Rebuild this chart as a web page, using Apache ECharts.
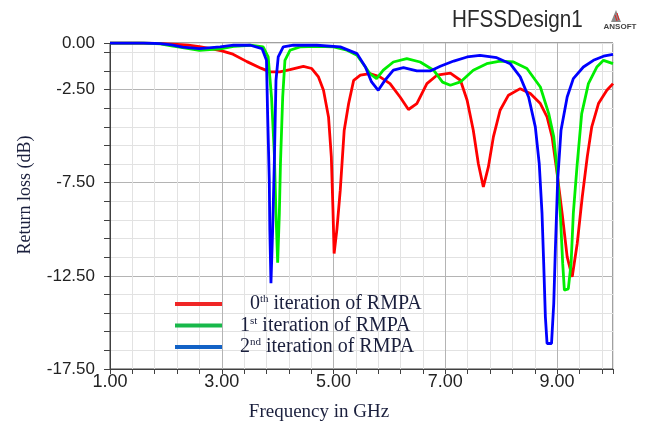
<!DOCTYPE html>
<html><head><meta charset="utf-8">
<script src="https://cdn.jsdelivr.net/npm/echarts@6/dist/echarts.min.js"></script>
<style>html,body{margin:0;padding:0;background:#fff}#c{width:646px;height:428px}</style>
</head><body><div id="c"></div>
<script>
// ---- data ----
const seriesNames = ['0th iteration of RMPA', '1st iteration of RMPA', '2nd iteration of RMPA'];
const xLabelValues = [1, 3, 5, 7, 9];
const yLabelValues = [0, -2.5, -7.5, -12.5, -17.5];

const freq0 = [1.0, 1.5, 1.8, 2.0, 2.2, 2.4, 2.6, 2.8, 3.0, 3.2, 3.45, 3.7, 3.86, 4.04, 4.22, 4.46, 4.61, 4.73, 4.82, 4.91, 4.96, 4.99, 5.01, 5.06, 5.12, 5.19, 5.27, 5.36, 5.48, 5.65, 5.83, 6.01, 6.19, 6.34, 6.49, 6.67, 6.85, 7.09, 7.27, 7.39, 7.5, 7.59, 7.68, 7.77, 7.86, 7.98, 8.13, 8.34, 8.52, 8.70, 8.82, 8.91, 9.0, 9.09, 9.18, 9.27, 9.36, 9.45, 9.54, 9.62, 9.74, 9.89, 10.0];
const loss0 = [0, 0, -0.02, -0.05, -0.08, -0.12, -0.2, -0.3, -0.42, -0.6, -1.0, -1.35, -1.55, -1.55, -1.43, -1.25, -1.37, -1.82, -2.54, -3.97, -6.1, -9.0, -11.3, -10.0, -7.9, -4.7, -3.25, -2.0, -1.73, -1.64, -1.82, -2.18, -2.9, -3.57, -3.25, -2.18, -1.73, -1.62, -2.0, -3.07, -4.68, -6.47, -7.73, -6.65, -5.04, -3.61, -2.8, -2.45, -2.71, -3.25, -3.97, -5.04, -7.0, -9.15, -11.48, -12.55, -10.76, -8.26, -6.1, -4.5, -3.25, -2.54, -2.18];

const freq1 = [1.0, 1.6, 1.9, 2.1, 2.3, 2.6, 2.97, 3.21, 3.51, 3.74, 3.83, 3.89, 3.94, 3.97, 4.0, 4.03, 4.05, 4.09, 4.13, 4.22, 4.40, 4.70, 5.0, 5.24, 5.42, 5.57, 5.65, 5.77, 5.89, 6.07, 6.31, 6.55, 6.79, 6.95, 7.09, 7.27, 7.5, 7.74, 7.98, 8.22, 8.46, 8.70, 8.85, 8.94, 9.0, 9.06, 9.10, 9.13, 9.2, 9.25, 9.29, 9.36, 9.44, 9.56, 9.71, 9.83, 10.0];
const loss1 = [0, 0, -0.05, -0.15, -0.25, -0.4, -0.32, -0.18, -0.12, -0.21, -0.75, -2.9, -5.93, -9.15, -11.8, -9.15, -6.47, -2.9, -0.93, -0.39, -0.21, -0.18, -0.21, -0.39, -0.66, -1.29, -1.64, -1.91, -1.46, -1.02, -0.84, -1.02, -1.46, -2.1, -2.27, -2.09, -1.46, -1.11, -0.97, -1.02, -1.37, -2.36, -3.79, -5.04, -6.83, -9.33, -11.83, -13.27, -13.2, -11.83, -9.15, -6.47, -3.79, -2.18, -1.29, -0.93, -1.11];

const freq2 = [1.0, 1.6, 1.9, 2.1, 2.3, 2.6, 2.97, 3.21, 3.51, 3.72, 3.80, 3.82, 3.85, 3.86, 3.88, 3.91, 3.94, 3.97, 4.01, 4.10, 4.28, 4.70, 5.12, 5.42, 5.57, 5.68, 5.80, 5.92, 6.07, 6.25, 6.49, 6.73, 6.91, 7.15, 7.39, 7.62, 7.92, 8.16, 8.34, 8.49, 8.61, 8.68, 8.73, 8.76, 8.79, 8.82, 8.90, 8.94, 8.97, 9.01, 9.07, 9.18, 9.29, 9.47, 9.65, 9.83, 10.0];
const loss2 = [0, 0, -0.03, -0.1, -0.22, -0.3, -0.21, -0.12, -0.12, -0.3, -0.93, -3.79, -7.37, -10.05, -12.9, -10.05, -6.47, -2.0, -0.75, -0.21, -0.12, -0.12, -0.21, -0.57, -1.29, -2.09, -2.54, -2.0, -1.46, -1.32, -1.5, -1.5, -1.25, -0.97, -0.75, -0.66, -0.79, -1.11, -1.82, -2.9, -4.5, -6.47, -9.15, -11.83, -14.7, -16.13, -16.13, -13.98, -10.94, -7.37, -4.68, -2.9, -1.91, -1.29, -0.93, -0.71, -0.61];

// ---- chart ----
const zip = (xs, ys) => xs.map((x, i) => [x, ys[i]]);
const near = (a, b) => Math.abs(a - b) < 1e-6;
const lineColors = ['#ff0000', '#00ee00', '#0000ff'];
const legendColors = ['#f02626', '#18b84a', '#1262c6'];
const sups = ['th', 'st', 'nd'];
const major = '#b4b4b4', minor = '#e2e2e2';

const chart = echarts.init(document.getElementById('c'), null, {renderer: 'canvas'});
chart.setOption({
  animation: false,
  backgroundColor: '#ffffff',
  grid: {left: 110, top: 43, width: 503, height: 326, show: true, borderColor: '#404040', borderWidth: 1, backgroundColor: 'transparent'},
  xAxis: {
    type: 'value', min: 1, max: 10, interval: 0.4,
    axisLine: {show: true, onZero: false, lineStyle: {color: '#404040', width: 1}},
    axisTick: {show: true, inside: false, length: 5, lineStyle: {color: '#404040'}},
    axisLabel: {
      margin: 4, fontFamily: 'Liberation Sans', fontSize: 18, color: '#222',
      formatter: v => xLabelValues.some(t => near(t, v)) ? v.toFixed(2) : ''
    },
    splitLine: {show: true, lineStyle: {color: [major, minor, minor, minor, minor], width: 1}}
  },
  yAxis: {
    type: 'value', min: -17.5, max: 0, interval: 1,
    axisLine: {show: true, onZero: false, lineStyle: {color: '#404040', width: 1}},
    axisTick: {show: true, inside: false, length: 6, lineStyle: {color: '#404040'}},
    axisLabel: {
      margin: 15, fontFamily: 'Liberation Sans', fontSize: 17, color: '#222', showMaxLabel: true, showMinLabel: true,
      formatter: v => yLabelValues.some(t => near(t, v)) ? v.toFixed(2) : ''
    },
    splitLine: {show: true, lineStyle: {color: [major, minor, minor, minor, minor], width: 1}}
  },
  legend: {
    orient: 'vertical', left: 170, top: 289, itemGap: 1.5,
    icon: 'rect', itemWidth: 47, itemHeight: 4, selectedMode: false,
    data: seriesNames.map((n, i) => ({name: n, itemStyle: {color: legendColors[i]}})),
    formatter: name => {
      const i = seriesNames.indexOf(name);
      return '{g' + (i === 0 ? 0 : 1) + '| }{n|' + i + '}{s|' + sups[i] + '}{n| iteration of RMPA}';
    },
    textStyle: {
      fontFamily: 'Liberation Serif', fontSize: 20, color: '#1a1f3d', lineHeight: 20,
      rich: {
        g0: {width: 23, fontSize: 20, lineHeight: 20},
        g1: {width: 13, fontSize: 20, lineHeight: 20},
        n: {fontFamily: 'Liberation Serif', fontSize: 20, color: '#1a1f3d', lineHeight: 20},
        s: {fontFamily: 'Liberation Serif', fontSize: 11, color: '#1a1f3d', lineHeight: 11, verticalAlign: 'top'}
      }
    }
  },
  graphic: [
    {type: 'text', x: 452, y: 8, scaleX: 0.86, style: {text: 'HFSSDesign1', font: '24px "Liberation Sans"', fill: '#2a2a2a'}},
    {type: 'polygon', shape: {points: [[616, 10], [611, 22], [621, 22]]}, style: {fill: '#8a8a8a'}},
    {type: 'polyline', shape: {points: [[615, 15], [617, 21]]}, style: {stroke: '#e02020', lineWidth: 1}},
    {type: 'polyline', shape: {points: [[617, 13], [619, 20]]}, style: {stroke: '#e02020', lineWidth: 1}},
    {type: 'text', x: 620, y: 27, style: {text: 'ANSOFT', font: 'bold 8px "Liberation Sans"', fill: '#444', textAlign: 'center', textVerticalAlign: 'middle', align: 'center', verticalAlign: 'middle'}},
    {type: 'text', x: 25, y: 195, rotation: Math.PI / 2, style: {text: 'Return loss (dB)', font: '18px "Liberation Serif"', fill: '#1a1f3d', textAlign: 'center', textVerticalAlign: 'middle', align: 'center', verticalAlign: 'middle'}},
    {type: 'text', x: 319, y: 412, style: {text: 'Frequency in GHz', font: '19px "Liberation Serif"', fill: '#1a1f3d', textAlign: 'center', textVerticalAlign: 'middle', align: 'center', verticalAlign: 'middle'}}
  ],
  series: [
    {name: seriesNames[0], type: 'line', data: zip(freq0, loss0)},
    {name: seriesNames[1], type: 'line', data: zip(freq1, loss1)},
    {name: seriesNames[2], type: 'line', data: zip(freq2, loss2)}
  ].map((s, i) => Object.assign(s, {
    symbol: 'none', showSymbol: false, smooth: false,
    lineStyle: {color: lineColors[i], width: 2.8}, itemStyle: {color: lineColors[i]}, z: 3 + i
  }))
});
</script>
</body></html>
